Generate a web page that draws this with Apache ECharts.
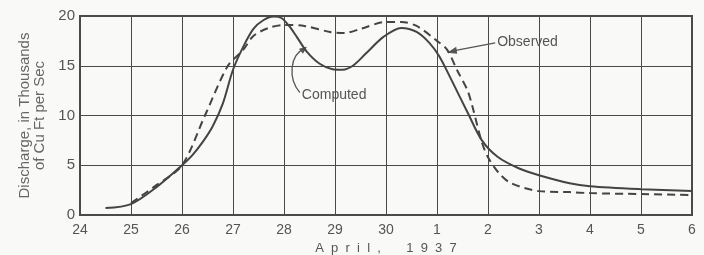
<!DOCTYPE html>
<html>
<head>
<meta charset="utf-8">
<script src="https://cdn.jsdelivr.net/npm/echarts@6/dist/echarts.min.js"></script>
<style>
  html, body { margin: 0; padding: 0; background: #f9f9f7; }
  #chart { width: 704px; height: 255px; }
</style>
</head>
<body>
<div id="chart"></div>
<script>
// days counted from April 1; 31 = May 1
const dayTicks = [24, 25, 26, 27, 28, 29, 30, 31, 32, 33, 34, 35, 36];
const dayLabels = ['24', '25', '26', '27', '28', '29', '30', '1', '2', '3', '4', '5', '6'];

const computedDays = [24.5, 25, 25.5, 26, 26.2, 26.4, 26.6, 26.8, 27.0, 27.2, 27.4, 27.6, 27.8, 27.95,
  28.1, 28.25, 28.45, 28.7, 28.95, 29.15, 29.35, 29.6, 29.95, 30.3, 30.6, 30.85, 31.05, 31.3, 31.6,
  31.88, 32.2, 32.6, 33, 33.6, 34, 35, 36];
const computedFlow = [0.7, 1.1, 2.8, 5.0, 6.0, 7.3, 8.9, 11.2, 14.6, 16.9, 18.7, 19.6, 19.95, 19.8,
  19.0, 17.9, 16.4, 15.2, 14.65, 14.6, 15.0, 16.2, 17.9, 18.8, 18.4, 17.3, 15.9, 13.4, 10.3,
  7.5, 5.8, 4.7, 4.0, 3.2, 2.9, 2.6, 2.4];

const observedDays = [25, 25.5, 26, 26.45, 26.9, 27.2, 27.4, 27.7, 28, 28.4, 28.9, 29.2, 29.5, 30, 30.3,
  30.6, 31.0, 31.2, 31.4, 31.6, 31.7, 31.88, 32.0, 32.2, 32.45, 33, 33.6, 34, 35, 36];
const observedFlow = [1.2, 3.0, 5.0, 10.0, 15.0, 16.6, 18.0, 18.8, 19.1, 19.0, 18.4, 18.3, 18.7, 19.4, 19.4,
  19.0, 17.5, 16.6, 14.5, 12.5, 10.8, 7.3, 5.8, 4.3, 3.2, 2.4, 2.3, 2.2, 2.1, 2.0];

const ink = '#4a4a4a';
const font = '"Liberation Sans", Arial, sans-serif';

const pairs = (xs, ys) => xs.map((x, i) => [x, ys[i]]);

const chart = echarts.init(document.getElementById('chart'), null, { renderer: 'canvas' });

chart.setOption({
  backgroundColor: '#f9f9f7',
  animation: false,
  grid: {
    left: 80, right: 12, top: 16, bottom: 40,
    outerBoundsMode: 'none',
    containLabel: false,
    show: true, borderColor: ink, borderWidth: 2
  },
  xAxis: {
    type: 'value',
    min: 24, max: 36, interval: 1,
    name: 'A  p  r  i  l  ,       1  9  3  7',
    nameLocation: 'middle',
    nameGap: 26,
    nameTextStyle: { color: '#555', fontSize: 13, fontFamily: font },
    axisLine: { show: false },
    axisTick: { show: false },
    axisLabel: {
      color: '#555', fontSize: 14, fontFamily: font, margin: 8,
      formatter: (v) => dayLabels[dayTicks.indexOf(v)] || ''
    },
    splitLine: { show: true, lineStyle: { color: ink, width: 1 } }
  },
  yAxis: {
    type: 'value',
    min: 0, max: 20, interval: 5,
    name: 'Discharge, in Thousands\nof Cu Ft per Sec',
    nameLocation: 'middle',
    nameGap: 30,
    nameTextStyle: { color: '#666', fontSize: 15, fontFamily: font, lineHeight: 15 },
    axisLine: { show: false },
    axisTick: { show: false },
    axisLabel: { color: '#555', fontSize: 15, fontFamily: font, margin: 5 },
    splitLine: { show: true, lineStyle: { color: ink, width: 1 } }
  },
  series: [
    {
      name: 'Computed',
      type: 'line',
      data: pairs(computedDays, computedFlow),
      smooth: 0.3,
      showSymbol: false,
      lineStyle: { color: '#444', width: 2 }
    },
    {
      name: 'Observed',
      type: 'line',
      data: pairs(observedDays, observedFlow),
      smooth: 0.3,
      showSymbol: false,
      lineStyle: { color: '#444', width: 2, type: [8, 5] }
    }
  ]
});

// annotations: labels with arrows pointing to each curve
const px = (d, v) => chart.convertToPixel({ gridIndex: 0 }, [d, v]);
const cTip = px(28.45, 16.9);
const oTip = px(31.2, 16.3);
const cLabel = px(28.35, 11.9);
const oLabel = px(32.18, 17.3);

chart.setOption({
  graphic: [
    {
      type: 'text', left: cLabel[0], top: cLabel[1] - 8,
      style: { text: 'Computed', fill: '#555', font: '14px ' + font }
    },
    {
      type: 'bezierCurve',
      shape: {
        x1: cLabel[0] - 2, y1: cLabel[1] - 4,
        cpx1: cLabel[0] - 14, cpy1: cLabel[1] - 18,
        cpx2: cLabel[0] - 12, cpy2: cTip[1] + 8,
        x2: cTip[0] - 3, y2: cTip[1] + 2
      },
      style: { stroke: '#555', lineWidth: 1.3, fill: null }
    },
    {
      type: 'polygon',
      shape: { points: [[cTip[0], cTip[1]], [cTip[0] - 8, cTip[1] + 2], [cTip[0] - 4, cTip[1] + 7]] },
      style: { fill: '#555' }
    },
    {
      type: 'text', left: oLabel[0], top: oLabel[1] - 8,
      style: { text: 'Observed', fill: '#555', font: '14px ' + font }
    },
    {
      type: 'line',
      shape: { x1: oLabel[0] - 2, y1: oLabel[1], x2: oTip[0] + 6, y2: oTip[1] - 2 },
      style: { stroke: '#555', lineWidth: 1.3 }
    },
    {
      type: 'polygon',
      shape: { points: [[oTip[0], oTip[1]], [oTip[0] + 9, oTip[1] - 6], [oTip[0] + 10, oTip[1] + 1]] },
      style: { fill: '#555' }
    }
  ]
});
</script>
</body>
</html>
